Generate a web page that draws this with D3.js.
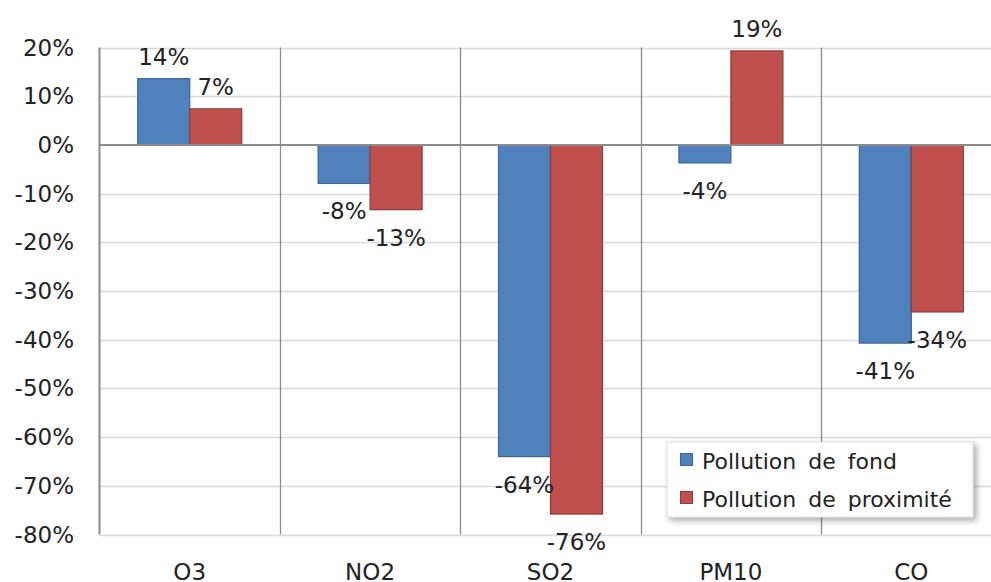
<!DOCTYPE html>
<html>
<head>
<meta charset="utf-8">
<script src="https://cdn.jsdelivr.net/npm/d3@7"></script>
<style>
body { margin: 0; background: #fff; }
svg text { font-family: "DejaVu Sans", Verdana, sans-serif; fill: #222; }
</style>
</head>
<body>
<div id="chart"></div>
<script>
var categories = ["O3", "NO2", "SO2", "PM10", "CO"];
var seriesNames = ["Pollution de fond", "Pollution de proximité"];
var fond = [0.136, -0.079, -0.64, -0.037, -0.407];
var proximite = [0.074, -0.133, -0.758, 0.193, -0.343];
var yTicks = [0.2, 0.1, 0, -0.1, -0.2, -0.3, -0.4, -0.5, -0.6, -0.7, -0.8];
var colors = ["#4F81BD", "#C0504D"];
var strokes = ["#3B6796", "#8E3A38"];

var width = 991, height = 582;
var fontSize = 23;

var svg = d3.select("#chart").append("svg")
    .attr("width", width)
    .attr("height", height);

var x = d3.scaleBand()
    .domain(categories)
    .range([99.5, 1001.5]);

var y = d3.scaleLinear()
    .domain([-0.8, 0.2])
    .range([534.5, 47.5]);

var fmt = d3.format(".0%");
function pct(d) { return fmt(d).replace("\u2212", "-"); }

var barW = 52;

// horizontal gridlines
svg.append("g")
    .selectAll("line")
    .data(yTicks.filter(function(d) { return d !== 0; }))
    .enter().append("line")
    .attr("x1", 99.5)
    .attr("x2", width)
    .attr("y1", function(d) { return Math.round(y(d)) + 0.5; })
    .attr("y2", function(d) { return Math.round(y(d)) + 0.5; })
    .attr("stroke", "#d9d9d9")
    .attr("stroke-width", 1.5);

// category separators
svg.append("g")
    .selectAll("line")
    .data(categories.slice(1))
    .enter().append("line")
    .attr("x1", function(d) { return Math.round(x(d)) + 0.5; })
    .attr("x2", function(d) { return Math.round(x(d)) + 0.5; })
    .attr("y1", y(0.2))
    .attr("y2", y(-0.8))
    .attr("stroke", "#8c8c8c")
    .attr("stroke-width", 1.3);

// y axis labels
svg.append("g")
    .selectAll("text")
    .data(yTicks)
    .enter().append("text")
    .attr("x", 74)
    .attr("y", function(d) { return y(d) + 8; })
    .attr("text-anchor", "end")
    .attr("font-size", fontSize)
    .text(function(d) { return pct(d); });

// bars
var rows = categories.map(function(c, i) { return { cat: c, vals: [fond[i], proximite[i]] }; });

var groups = svg.append("g")
    .selectAll("g")
    .data(rows)
    .enter().append("g")
    .attr("transform", function(d) { return "translate(" + (x(d.cat) + x.bandwidth() / 2) + ",0)"; });

groups.selectAll("rect")
    .data(function(d) { return d.vals; })
    .enter().append("rect")
    .attr("x", function(d, i) { return i === 0 ? -barW : 0; })
    .attr("width", barW)
    .attr("y", function(d) { return y(Math.max(0, d)); })
    .attr("height", function(d) { return Math.abs(y(d) - y(0)); })
    .attr("fill", function(d, i) { return colors[i]; })
    .attr("stroke", function(d, i) { return strokes[i]; })
    .attr("stroke-width", 1.2);

groups.selectAll("text")
    .data(function(d) { return d.vals; })
    .enter().append("text")
    .attr("x", function(d, i) { return i === 0 ? -barW / 2 : barW / 2; })
    .attr("y", function(d) { return d >= 0 ? y(d) - 14 : y(d) + 36; })
    .attr("text-anchor", "middle")
    .attr("font-size", fontSize)
    .text(function(d) { return pct(d); });

// zero line and left axis
svg.append("line")
    .attr("x1", 99.5).attr("x2", width)
    .attr("y1", y(0)).attr("y2", y(0))
    .attr("stroke", "#8c8c8c").attr("stroke-width", 2);

svg.append("line")
    .attr("x1", 99.5).attr("x2", 99.5)
    .attr("y1", y(0.2)).attr("y2", y(-0.8))
    .attr("stroke", "#8c8c8c").attr("stroke-width", 2);

// category labels (bottom edge crops them, as in the original)
svg.append("g")
    .selectAll("text")
    .data(categories)
    .enter().append("text")
    .attr("x", function(d) { return x(d) + x.bandwidth() / 2; })
    .attr("y", 580)
    .attr("text-anchor", "middle")
    .attr("font-size", fontSize)
    .text(function(d) { return d; });

// legend
var defs = svg.append("defs");
var f = defs.append("filter").attr("id", "sh").attr("x", "-10%").attr("y", "-20%").attr("width", "130%").attr("height", "150%");
f.append("feDropShadow").attr("dx", 3).attr("dy", 3).attr("stdDeviation", 3).attr("flood-color", "#000").attr("flood-opacity", 0.35);

var legend = svg.append("g").attr("transform", "translate(667,442)");
legend.append("rect")
    .attr("width", 306).attr("height", 75)
    .attr("fill", "#fff")
    .attr("stroke", "#d9d9d9")
    .attr("filter", "url(#sh)");

var items = legend.selectAll("g.item")
    .data(seriesNames)
    .enter().append("g")
    .attr("class", "item")
    .attr("transform", function(d, i) { return "translate(0," + (i * 38) + ")"; });

items.append("rect")
    .attr("x", 13.5).attr("y", 11.5)
    .attr("width", 12).attr("height", 12)
    .attr("fill", function(d, i) { return colors[i]; })
    .attr("stroke", function(d, i) { return strokes[i]; });

items.append("text")
    .attr("x", 35)
    .attr("y", 27)
    .attr("font-size", 22)
    .attr("word-spacing", 5)
    .text(function(d) { return d; });
</script>
</body>
</html>
